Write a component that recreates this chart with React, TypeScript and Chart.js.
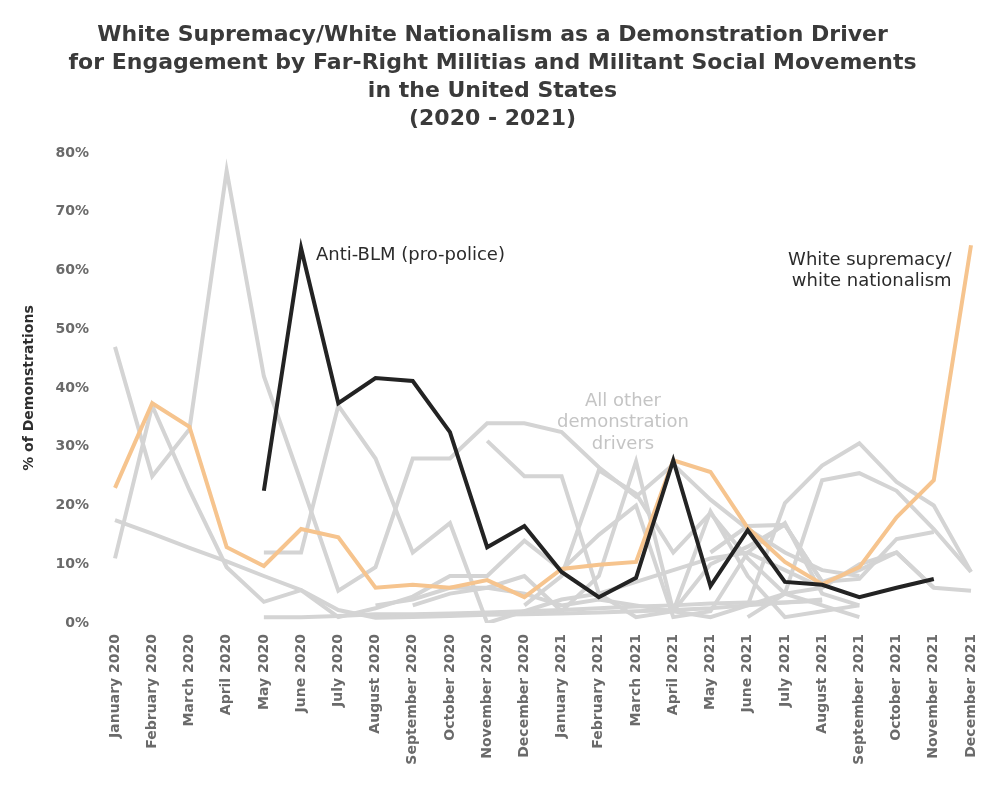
import React, { useEffect, useRef } from "react";
import { Chart, registerables } from "chart.js";

Chart.register(...registerables);

const months = [
  "January 2020", "February 2020", "March 2020", "April 2020", "May 2020", "June 2020",
  "July 2020", "August 2020", "September 2020", "October 2020", "November 2020", "December 2020",
  "January 2021", "February 2021", "March 2021", "April 2021", "May 2021", "June 2021",
  "July 2021", "August 2021", "September 2021", "October 2021", "November 2021", "December 2021",
];

const yTicks = [0, 10, 20, 30, 40, 50, 60, 70, 80];

const antiBLM = [null, null, null, null, 22.5, 63.8, 37.4, 41.7, 41.2, 32.5, 12.9, 16.5,
  8.7, 4.4, 7.7, 27.7, 6.3, 15.8, 7.0, 6.5, 4.4, 6.0, 7.5, null];

const whiteSupremacy = [23, 37.4, 33.4, 12.9, 9.7, 16, 14.6, 6, 6.5, 6, 7.3, 4.4,
  9.2, 9.9, 10.4, 27.7, 25.7, 16.2, 10.4, 6.6, 9.5, 18, 24.3, 64.3];

const other1 = [47, 25, 33, 77, 42, 24, 5.5, 9.5, 28, 28, 34, 34,
  32.5, 26.5, 21.5, 27, 21, 16, 12, 9, 8, null, null, null];
const other2 = [17.5, 15.2, 12.8, 10.5, 8, 5.6, 2.2, 0.9, 1, 1.2, 1.4, 1.5,
  1.6, 1.8, 2, 2.2, 2.5, 3, 3.5, 4, null, null, null, null];
const other3 = [11, 37, 22.6, 9.5, 3.6, 5.6, 1, 2.5, 4.5, 8, 8, 14,
  9, 15, 20, 1, 2, 12, 17, 5, 3, null, null, null];
const other4 = [null, null, null, null, 12, 12, 37, 28, 12, 17, 0, 2,
  4, 5, 7, 9, 11, 12, 9, 6, null, null, null, null];
const other5 = [null, null, null, null, null, null, null, null, null, null, 31, 25,
  25, 5, 1, 2, 19, 8, 1, 2, 3, null, null, null];
const other6 = [null, null, null, null, null, null, null, null, 3, 5, 6, 8,
  2, 8, 27.5, 2, 10, 13, 16.7, 7, 9, 12, 6, null];
const other7 = [null, null, null, null, null, null, null, null, null, null, null, 3,
  8, 26, 22, 12, 18.7, 11, 5, 3, 1, null, null, null];
const other8 = [null, null, null, null, null, null, null, null, null, null, null, null,
  null, null, null, null, null, 3, 20.4, 26.8, 30.6, 24, 20, 8.7];
const other9 = [null, null, null, null, null, null, null, null, null, null, null, null,
  null, null, null, null, null, 1, 5, 24.3, 25.5, 22.5, 16, 8.7];
const other10 = [null, null, null, null, null, null, null, null, null, null, null, null,
  null, null, null, null, 12, 16.5, 16.7, 7, 7.5, 14.3, 15.5, null];
const other11 = [null, null, null, null, 1, 1, 1.2, 1.5, 1.5, 1.6, 1.8, 2,
  2.2, 2.5, 2.8, 3, 3.3, 3.5, 3.5, 3.8, null, null, null, null];
const other12 = [null, null, null, null, null, null, null, 3, 4, 6, 6, 5,
  3, 4, 3, 2, 1, 3, 5, 6, 10, 12, 6, 5.5];

const otherSeries = [other1, other2, other3, other4, other5, other6, other7, other8, other9, other10, other11, other12];

const titleLines = [
  "White Supremacy/White Nationalism as a Demonstration Driver",
  "for Engagement by Far-Right Militias and Militant Social Movements",
  "in the United States",
  "(2020 - 2021)",
];

const FONT = "'DejaVu Sans', 'Open Sans', sans-serif";

const labelsPlugin = {
  id: "lineLabels",
  afterDatasetsDraw(chart: any) {
    const { ctx, scales } = chart;
    const x = scales.x;
    const y = scales.y;
    ctx.save();
    ctx.font = `18px ${FONT}`;
    ctx.textBaseline = "middle";
    ctx.fillStyle = "#2b2b2b";
    ctx.textAlign = "left";
    ctx.fillText("Anti-BLM (pro-police)", x.getPixelForValue(5.4), y.getPixelForValue(62.6));
    ctx.textAlign = "right";
    ctx.fillText("White supremacy/", x.getPixelForValue(22.48), y.getPixelForValue(61.8));
    ctx.fillText("white nationalism", x.getPixelForValue(22.48), y.getPixelForValue(58.1));
    ctx.fillStyle = "#c4c4c4";
    ctx.textAlign = "center";
    const cx = x.getPixelForValue(13.65);
    ctx.fillText("All other", cx, y.getPixelForValue(37.8));
    ctx.fillText("demonstration", cx, y.getPixelForValue(34.1));
    ctx.fillText("drivers", cx, y.getPixelForValue(30.4));
    ctx.restore();
  },
};

export default function App() {
  const ref = useRef<HTMLCanvasElement | null>(null);

  useEffect(() => {
    if (!ref.current) return;
    const grayDatasets = otherSeries.map((d, i) => ({
      label: `Other ${i + 1}`,
      data: d,
      borderColor: "#d4d4d4",
      borderWidth: 4,
      pointRadius: 0,
      tension: 0,
      spanGaps: false,
      order: 3,
    }));
    const chart = new Chart(ref.current, {
      type: "line",
      data: {
        labels: months,
        datasets: [
          ...grayDatasets,
          {
            label: "White supremacy/white nationalism",
            data: whiteSupremacy,
            borderColor: "#f6c48e",
            borderWidth: 4,
            pointRadius: 0,
            order: 2,
          },
          {
            label: "Anti-BLM (pro-police)",
            data: antiBLM,
            borderColor: "#232323",
            borderWidth: 4,
            pointRadius: 0,
            order: 1,
          },
        ],
      },
      options: {
        animation: false,
        responsive: false,
        maintainAspectRatio: false,
        layout: { padding: { left: 14, right: 29, top: 0, bottom: 0 } },
        plugins: {
          legend: { display: false },
          tooltip: { enabled: false },
          title: {
            display: true,
            text: titleLines,
            color: "#3a3a3a",
            font: { family: FONT, size: 22, weight: "bold", lineHeight: 28 / 22 },
            padding: { top: 21, bottom: 20 },
          },
        },
        scales: {
          x: {
            offset: false,
            grid: { display: false, drawTicks: false },
            border: { display: false },
            ticks: {
              autoSkip: false,
              maxRotation: 90,
              minRotation: 90,
              padding: 11,
              color: "#6a6a6a",
              font: { family: FONT, size: 14, weight: "bold" },
            },
            afterFit(scale: any) {
              scale.height = 177;
            },
          },
          y: {
            min: 0,
            max: 80,
            afterBuildTicks(scale: any) {
              scale.ticks = yTicks.map((v) => ({ value: v }));
            },
            grid: { display: false, drawTicks: false },
            border: { display: false },
            ticks: {
              padding: 26,
              color: "#6a6a6a",
              font: { family: FONT, size: 14, weight: "bold" },
              callback: (v: any) => `${v}%`,
            },
            title: {
              display: true,
              text: "% of Demonstrations",
              color: "#2e2e2e",
              font: { family: FONT, size: 14, weight: "bold" },
              padding: { top: 7, bottom: 0 },
            },
            afterFit(scale: any) {
              scale.width = 101;
            },
          },
        },
      },
      plugins: [labelsPlugin],
    });
    return () => chart.destroy();
  }, []);

  return (
    <div style={{ position: "fixed", left: 0, top: 0, width: 1000, height: 800, background: "#fff" }}>
      <canvas ref={ref} width={1000} height={800} style={{ width: 1000, height: 800 }} />
    </div>
  );
}
